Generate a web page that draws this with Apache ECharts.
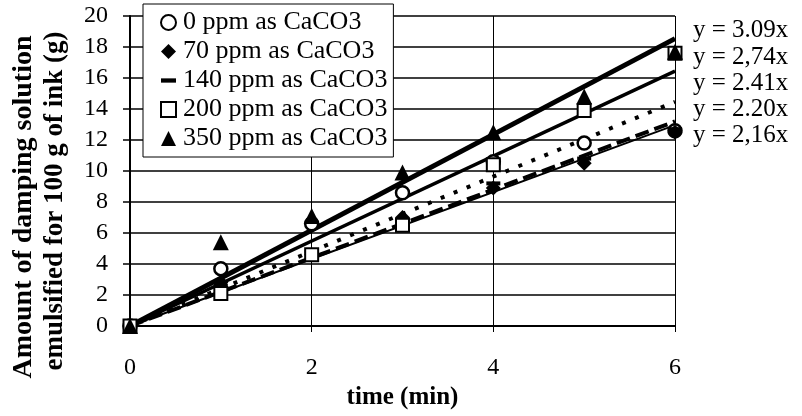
<!DOCTYPE html>
<html>
<head>
<meta charset="utf-8">
<script src="https://cdn.jsdelivr.net/npm/echarts@6/dist/echarts.min.js"></script>
<style>html,body{margin:0;padding:0;background:#fff}#c{width:802px;height:416px}</style>
</head>
<body>
<div id="c"></div>
<script>
const times = [0, 1, 2, 3, 4, 5, 6];
const seriesNames = ['0 ppm as CaCO3', '70 ppm as CaCO3', '140 ppm as CaCO3', '200 ppm as CaCO3', '350 ppm as CaCO3'];
const ppm0 = [0, 3.7, 6.6, 8.6, 10.6, 11.8, 12.6];
const ppm70 = [0, 2.8, 4.6, 7.0, 8.9, 10.5, 12.5];
const ppm140 = [0, 2.6, 4.8, 6.7, 9.2, 10.8, 12.7];
const ppm200 = [0, 2.1, 4.6, 6.5, 10.4, 13.9, 17.6];
const ppm350 = [0, 5.4, 7.1, 9.9, 12.5, 14.8, 17.7];
const fitSlopes = [3.09, 2.74, 2.41, 2.20, 2.16];
const fitLabels = ['y = 3.09x', 'y = 2,74x', 'y = 2.41x', 'y = 2.20x', 'y = 2,16x'];
const xTicks = [0, 2, 4, 6];
const yTicks = [0, 2, 4, 6, 8, 10, 12, 14, 16, 18, 20];

const serif = "'Liberation Serif', 'Times New Roman', serif";
const pairs = arr => times.map((t, i) => [t, arr[i]]);
const fitLine = s => [[times[0], 0], [times[times.length - 1], s * times[times.length - 1]]];

const fitStyles = [
  { width: 5, type: 'solid' },
  { width: 3.5, type: 'solid' },
  { width: 4, type: [4, 10] },
  { width: 4, type: [14, 6] },
  { width: 2, type: 'solid' }
];

const markerDefs = [
  { data: ppm0, symbol: 'circle', size: 13, style: { color: '#fff', borderColor: '#000', borderWidth: 2.5, opacity: 1 } },
  { data: ppm70, symbol: 'diamond', size: 15, style: { color: '#000', opacity: 1 } },
  { data: ppm140, symbol: 'rect', size: [14, 4], style: { color: '#000', opacity: 1 } },
  { data: ppm200, symbol: 'rect', size: 13, style: { color: '#fff', borderColor: '#000', borderWidth: 2, opacity: 1 } },
  { data: ppm350, symbol: 'triangle', size: 16, style: { color: '#000', opacity: 1 } }
];

const series = [];
fitSlopes.forEach((s, i) => {
  series.push({
    name: 'fit' + i,
    type: 'line',
    data: fitLine(s),
    showSymbol: false,
    silent: true,
    z: 2,
    lineStyle: { color: '#000', width: fitStyles[i].width, type: fitStyles[i].type, cap: 'butt' }
  });
});
markerDefs.forEach((m, i) => {
  series.push({
    name: seriesNames[i],
    type: 'scatter',
    data: pairs(m.data),
    symbol: m.symbol,
    symbolSize: m.size,
    itemStyle: m.style,
    clip: false,
    z: 3
  });
});

const legendData = seriesNames.map((n, i) => {
  const d = { name: n };
  if (i === 2) d.icon = 'path://M0,0H14V4H0Z';
  return d;
});

const chart = echarts.init(document.getElementById('c'), null, { renderer: 'canvas' });
chart.setOption({
  backgroundColor: '#fff',
  animation: false,
  grid: { left: 130, right: 127, top: 16, bottom: 90, containLabel: false },
  legend: {
    data: legendData,
    orient: 'vertical',
    left: 143,
    top: 4,
    itemWidth: 15,
    itemHeight: 15,
    itemGap: 0,
    padding: [4, 6, 4, 17],
    backgroundColor: '#fff',
    borderColor: '#000',
    borderWidth: 1,
    borderRadius: 0,
    textStyle: { fontFamily: serif, fontSize: 26, color: '#000', lineHeight: 29, padding: [0, 0, 0, 2] },
    selectedMode: false
  },
  xAxis: {
    type: 'value',
    min: xTicks[0],
    max: xTicks[xTicks.length - 1],
    interval: 2,
    name: 'time (min)',
    nameLocation: 'middle',
    nameGap: 58,
    nameTextStyle: { fontFamily: serif, fontSize: 25, fontWeight: 'bold', color: '#000' },
    axisLine: { show: true, lineStyle: { color: '#000', width: 2 } },
    axisTick: { show: true, length: 6, lineStyle: { color: '#000', width: 1 } },
    axisLabel: { margin: 30, fontFamily: serif, fontSize: 24, color: '#000' },
    splitLine: { show: true, lineStyle: { color: '#000', width: 1 } }
  },
  yAxis: {
    type: 'value',
    min: yTicks[0],
    max: yTicks[yTicks.length - 1],
    interval: 2,
    axisLine: { show: true, lineStyle: { color: '#000', width: 2 } },
    axisTick: { show: true, length: 7, lineStyle: { color: '#000', width: 1.5 } },
    axisLabel: { margin: 22, fontFamily: serif, fontSize: 24, color: '#000' },
    splitLine: { show: true, lineStyle: { color: '#000', width: 1.5 } }
  },
  graphic: [
    {
      type: 'text', x: 24, y: 207, rotation: Math.PI / 2,
      style: { text: 'Amount of damping solution', font: "bold 28px 'Liberation Serif'", fill: '#000', align: 'center', verticalAlign: 'middle' }
    },
    {
      type: 'text', x: 55, y: 201, rotation: Math.PI / 2,
      style: { text: 'emulsified for 100 g of ink (g)', font: "bold 27px 'Liberation Serif'", fill: '#000', align: 'center', verticalAlign: 'middle' }
    }
  ].concat(fitLabels.map((t, i) => ({
    type: 'text', x: 693, y: [30, 57, 83, 109, 135][i],
    style: { text: t, font: "25px 'Liberation Serif'", fill: '#000', align: 'left', verticalAlign: 'middle' }
  }))),
  series: series
});
</script>
</body>
</html>
